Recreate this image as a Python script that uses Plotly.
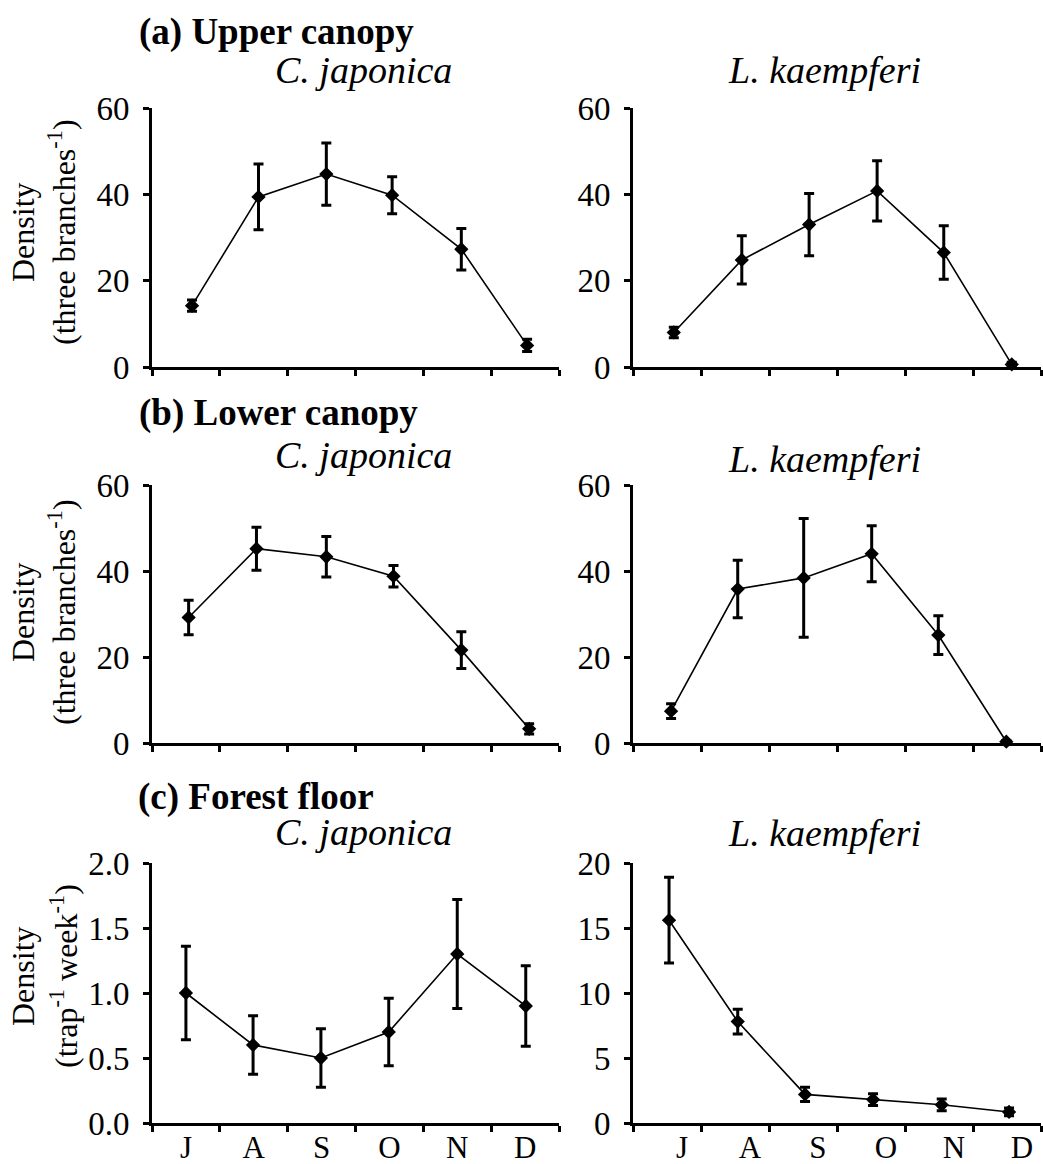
import plotly.graph_objects as go

# Month labels (July to December)
months = ["J", "A", "S", "O", "N", "D"]

# Sampling times, in months since 1 July
upper_cj_t = [0.59, 1.57, 2.57, 3.54, 4.56, 5.53]
upper_lk_t = [0.60, 1.60, 2.59, 3.59, 4.57, 5.57]
lower_cj_t = [0.54, 1.54, 2.57, 3.56, 4.56, 5.56]
lower_lk_t = [0.56, 1.54, 2.51, 3.51, 4.49, 5.49]
floor_cj_t = [0.50, 1.49, 2.49, 3.49, 4.50, 5.51]
floor_lk_t = [0.53, 1.54, 2.53, 3.53, 4.54, 5.53]

# (a) Upper canopy density (three branches^-1), mean and SE
upper_cj = [14.2, 39.4, 44.7, 39.8, 27.3, 5.0]
upper_cj_se = [1.3, 7.6, 7.2, 4.3, 4.8, 1.4]
upper_lk = [8.0, 24.8, 33.0, 40.8, 26.5, 0.6]
upper_lk_se = [1.2, 5.6, 7.2, 7.0, 6.2, 0.5]

# (b) Lower canopy density (three branches^-1)
lower_cj = [29.2, 45.2, 43.3, 38.8, 21.6, 3.3]
lower_cj_se = [4.0, 5.0, 4.7, 2.5, 4.3, 1.2]
lower_lk = [7.4, 35.8, 38.4, 44.0, 25.1, 0.3]
lower_lk_se = [1.7, 6.7, 13.8, 6.5, 4.5, 0.3]

# (c) Forest floor density (trap^-1 week^-1)
floor_cj = [1.00, 0.60, 0.50, 0.70, 1.30, 0.90]
floor_cj_se = [0.36, 0.225, 0.225, 0.26, 0.42, 0.31]
floor_lk = [15.6, 7.8, 2.2, 1.8, 1.4, 0.85]
floor_lk_se = [3.3, 0.95, 0.55, 0.45, 0.45, 0.3]

W, H = 1043, 1164
FONT = "'Liberation Serif', 'Times New Roman', Times, serif"


def px_x(p):
    return p / W


def px_y(p):
    return 1 - p / H


panels = [
    (upper_cj_t, upper_cj, upper_cj_se),
    (upper_lk_t, upper_lk, upper_lk_se),
    (lower_cj_t, lower_cj, lower_cj_se),
    (lower_lk_t, lower_lk, lower_lk_se),
    (floor_cj_t, floor_cj, floor_cj_se),
    (floor_lk_t, floor_lk, floor_lk_se),
]

fig = go.Figure()
for i, (t, v, se) in enumerate(panels):
    n = "" if i == 0 else str(i + 1)
    fig.add_trace(go.Scatter(
        x=t, y=v, xaxis="x" + n, yaxis="y" + n,
        mode="lines+markers",
        line=dict(color="black", width=1.6),
        marker=dict(symbol="diamond", size=11, color="black"),
        error_y=dict(type="data", array=se, visible=True,
                     color="black", thickness=3, width=5),
        showlegend=False,
        cliponaxis=False,
    ))

# Column x-domains (pixels) and row y-domains (pixels, top/bottom)
col_dom = [(152, 559), (633, 1041)]
row_dom = [(108, 367), (485, 743), (863, 1123)]
y_ranges = [[0, 60], [0, 60], [0, 60], [0, 60], [0, 2.0], [0, 20]]
y_ticks = [[0, 20, 40, 60]] * 4 + [[0.0, 0.5, 1.0, 1.5, 2.0], [0, 5, 10, 15, 20]]
y_text = [["0", "20", "40", "60"]] * 4 + [["0.0", "0.5", "1.0", "1.5", "2.0"],
                                          ["0", "5", "10", "15", "20"]]
label_shift = [0.5, 0.72]

layout = dict(
    template="none",
    width=W, height=H, autosize=False,
    margin=dict(l=0, r=0, t=0, b=0, autoexpand=False),
    paper_bgcolor="white", plot_bgcolor="white",
    font=dict(family=FONT, color="black", size=28),
)

for i in range(6):
    r, c = divmod(i, 2)
    n = "" if i == 0 else str(i + 1)
    x0, x1 = col_dom[c]
    ytop, ybot = row_dom[r]
    layout["xaxis" + n] = dict(
        domain=[px_x(x0), px_x(x1)], range=[0, 6],
        anchor="y" + n, automargin=False,
        showline=True, linecolor="black", linewidth=3,
        showgrid=False, zeroline=False,
        tickvals=[k + label_shift[c] for k in range(6)],
        ticktext=months, ticks="",
        showticklabels=(r == 2),
        tickfont=dict(family=FONT, size=31),
        ticklabelstandoff=-5,
        minor=dict(tickvals=list(range(7)), ticks="outside",
                   ticklen=6, tickwidth=3, tickcolor="black", showgrid=False),
        fixedrange=True,
    )
    layout["yaxis" + n] = dict(
        domain=[px_y(ybot), px_y(ytop)], range=y_ranges[i],
        anchor="x" + n, automargin=False,
        showline=True, linecolor="black", linewidth=3,
        showgrid=False, zeroline=False,
        tickvals=y_ticks[i], ticktext=y_text[i],
        ticks="outside", ticklen=6, tickwidth=3, tickcolor="black",
        tickfont=dict(family=FONT, size=33),
        ticklabelstandoff=7,
        fixedrange=True,
    )

ann = []


def text(x, y, s, size=28, bold=False, italic=False, angle=0):
    if bold:
        s = "<b>" + s + "</b>"
    if italic:
        s = "<i>" + s + "</i>"
    ann.append(dict(x=px_x(x), y=px_y(y), xref="paper", yref="paper",
                    text=s, showarrow=False, textangle=angle,
                    xanchor="center", yanchor="middle",
                    font=dict(family=FONT, size=size, color="black")))


# Section headings
text(276, 32, "(a) Upper canopy", size=37, bold=True)
text(278, 413, "(b) Lower canopy", size=37, bold=True)
text(256, 797, "(c) Forest floor", size=37, bold=True)

# Species names
for yc in (70, 455, 832):
    text(363, yc, "C. japonica", size=38, italic=True)
for yc in (70, 459, 833):
    text(824, yc, "L. kaempferi", size=38, italic=True)

# Y-axis titles
for yc in (232, 612):
    text(23, yc, "Density", size=32, angle=-90)
    text(62, yc, "(three branches<sup>-1</sup>)", size=32, angle=-90)
text(23, 976, "Density", size=32, angle=-90)
text(64, 976, "(trap<sup>-1</sup> week<sup>-1</sup>)", size=32, angle=-90)

layout["annotations"] = ann
fig.update_layout(**layout)
fig.write_html("out.html")
